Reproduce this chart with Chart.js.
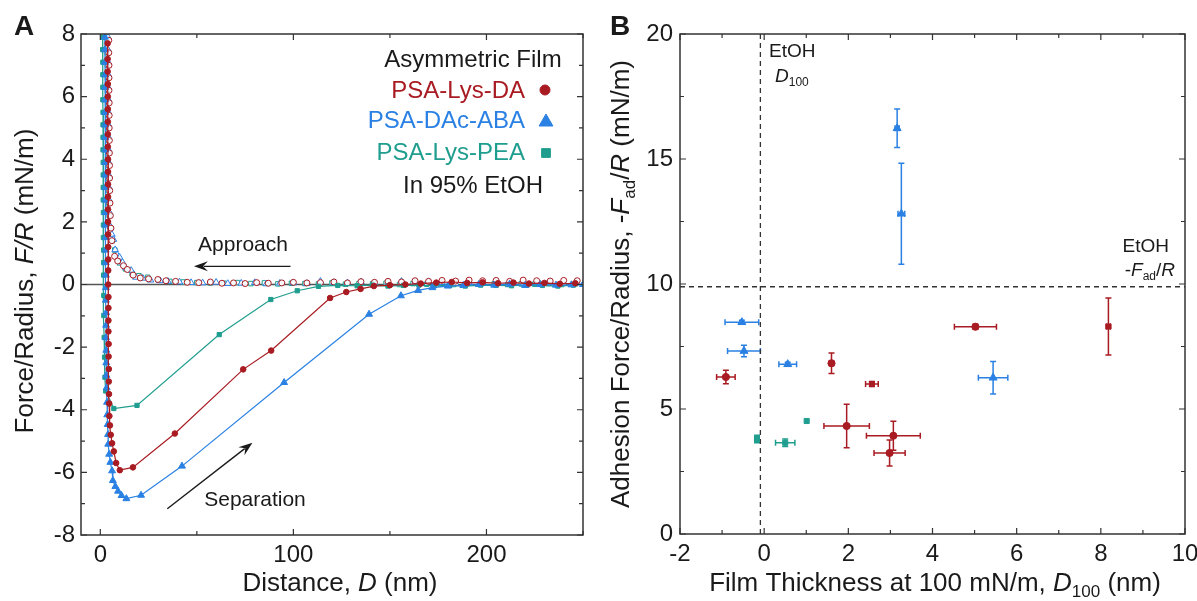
<!DOCTYPE html>
<html><head><meta charset="utf-8">
<script src="https://cdn.jsdelivr.net/npm/chart.js@4.4.1/dist/chart.umd.min.js"></script>
<style>
html,body{margin:0;padding:0;background:#fff;width:1197px;height:601px;overflow:hidden;}
#a{position:absolute;left:0;top:0;}
#b{position:absolute;left:600px;top:0;}
</style></head><body>
<canvas id="a" width="600" height="601"></canvas>
<canvas id="b" width="597" height="601"></canvas>
<script>
// ---------- Panel A data (Distance D in nm, F/R in mN/m) ----------
const aXTicks = [0, 100, 200];
const aYTicks = [-8, -6, -4, -2, 0, 2, 4, 6, 8];
const zeroLineD = [-10, 250];
const zeroLineF = [0, 0];

const redSepD = [3.8,3.8,3.8,3.9,3.9,3.9,3.9,3.9,3.9,4.0,4.0,4.0,4.0,4.0,4.0,4.0,4.1,4.1,4.1,4.1,4.2,4.2,4.2,4.2,4.3,4.3,4.4,4.4,4.5,4.6,4.7,5.0,5.4,6.1,7.0,8.2,10.1,16.9,38.6,74,88.5,119,127.4,134.8,141.7,150,158,166,174,182,190,198,206,214,222,230,238,246];
const redSepF = [7.7,7.2,6.8,6.4,6.0,5.6,5.2,4.8,4.4,4.0,3.6,3.2,2.8,2.4,2.0,1.6,1.2,0.8,0.45,0.0,-0.4,-0.75,-1.15,-1.5,-1.9,-2.3,-2.7,-3.1,-3.5,-3.8,-4.2,-4.5,-4.8,-5.07,-5.33,-5.7,-5.93,-5.84,-4.76,-2.71,-2.11,-0.43,-0.24,-0.14,-0.05,-0.02,0.0,0.03,0.06,0.08,0.05,0.07,0.04,0.06,0.03,0.05,0.02,0.04];

const blueSepD = [2.4,2.4,2.4,2.5,2.5,2.5,2.5,2.5,2.6,2.6,2.6,2.6,2.7,2.7,2.7,2.7,2.8,2.8,2.8,2.9,2.9,2.9,3.0,3.0,3.0,3.1,3.1,3.2,3.3,3.5,3.6,3.8,4.0,4.1,4.6,5.2,6.1,6.5,7.8,9.2,11,13.5,21.1,42.3,95.2,139.2,155.7,164.6,172,180,188,196,204,212,220,228,236,244,250];
const blueSepF = [7.9,7.5,7.1,6.7,6.3,5.9,5.5,5.1,4.7,4.3,3.9,3.5,3.1,2.7,2.3,1.9,1.5,1.1,0.7,0.3,-0.1,-0.5,-0.9,-1.3,-1.7,-2.1,-2.5,-2.9,-3.3,-3.76,-4.16,-4.47,-4.79,-5.1,-5.42,-5.68,-5.95,-6.26,-6.45,-6.6,-6.74,-6.84,-6.73,-5.8,-3.13,-0.95,-0.36,-0.19,-0.1,-0.05,-0.03,0.0,-0.02,0.01,-0.03,0.0,-0.02,-0.01,0.0];

const tealSepD = [1.2,1.2,1.3,1.3,1.3,1.3,1.4,1.4,1.4,1.4,1.5,1.5,1.5,1.5,1.6,1.6,1.6,1.7,1.7,1.7,1.8,1.8,2.0,2.2,2.4,2.8,7.0,19,61.6,88.3,102,113,123,133,141,149,157,165,173,181,189,197,205,213,221,229,237,245];
const tealSepF = [7.9,7.5,7.1,6.7,6.3,5.9,5.5,5.1,4.7,4.3,3.9,3.5,3.1,2.7,2.3,1.9,1.5,1.1,0.7,0.3,-0.35,-0.99,-1.69,-2.32,-2.96,-3.4,-3.96,-3.86,-1.6,-0.48,-0.2,-0.06,-0.03,-0.04,-0.02,-0.05,-0.03,-0.02,-0.04,-0.03,-0.05,-0.02,-0.03,-0.04,-0.02,-0.03,-0.05,-0.02];

const redApprD = [4.4,4.4,4.5,4.5,4.5,4.6,4.6,4.6,4.7,4.7,4.8,4.8,4.9,5.0,5.2,5.5,6.0,7.4,9.0,12,14,17,20.7,25,29.8,34,39,45,51,57,63,69,75,81,87,94,100,107,114,121,128,135,142,149,156,163,170,177,184,191,198,205,212,219,226,233,240,247];
const redApprF = [7.8,7.4,7.0,6.6,6.2,5.8,5.4,5.0,4.6,4.2,3.8,3.4,3.0,2.6,2.2,1.8,1.4,0.9,0.75,0.6,0.48,0.3,0.21,0.18,0.16,0.12,0.1,0.07,0.06,0.08,0.04,0.05,0.03,0.06,0.04,0.05,0.07,0.05,0.06,0.08,0.05,0.09,0.07,0.1,0.08,0.12,0.1,0.13,0.11,0.14,0.12,0.13,0.1,0.14,0.12,0.11,0.13,0.12];

const blueApprD = [4.0,4.0,4.1,4.1,4.1,4.2,4.2,4.2,4.3,4.3,4.4,4.4,4.5,4.6,4.8,5.3,6.0,6.8,7.7,8.7,10,11.5,13,16,18.4,22,26,31,35,41,47,53,60,66,73,80,86,93,100,107,114,121,128,135,142,149,156,163,170,177,184,191,198,205,212,219,226,233,240,247];
const blueApprF = [7.9,7.5,7.1,6.7,6.3,5.9,5.5,5.1,4.7,4.3,3.9,3.5,3.1,2.7,2.3,1.84,1.6,1.44,1.11,0.95,0.87,0.71,0.55,0.45,0.23,0.2,0.14,0.12,0.1,0.08,0.06,0.05,0.07,0.03,0.04,0.06,0.02,0.04,0.05,0.03,0.1,0.06,0.05,0.08,0.04,0.07,0.1,0.05,0.09,0.06,0.03,0.05,0.08,0.04,0.06,0.02,0.05,0.07,0.03,0.05];

const tealApprD = [3.6,3.6,3.7,3.7,3.7,3.8,3.8,3.8,3.9,3.9,4.0,4.0,4.1,4.3,4.6,5.2,6.2,7.5,10,13,16.5,20,24.5,30,36,43,50,57,64,71,78,85,92,99,106,113,120,127,134,141,148,155,162,169,176,183,190,197,204,211,218,225,232,239,246];
const tealApprF = [7.8,7.4,7.0,6.6,6.2,5.8,5.4,5.0,4.6,4.2,3.8,3.4,3.0,2.6,2.2,1.8,1.4,1.1,0.69,0.5,0.35,0.28,0.23,0.15,0.1,0.08,0.06,0.05,0.04,0.06,0.03,0.05,0.02,0.04,0.03,0.02,0.05,0.01,0.03,0.02,0.04,0.0,0.03,0.01,0.02,0.0,0.03,0.01,0.02,0.0,0.02,0.01,0.03,0.0,0.02];

// ---------- Panel B data (D100 in nm, -Fad/R in mN/m) ----------
const bXTicks = [-2, 0, 2, 4, 6, 8, 10];
const bYTicks = [0, 5, 10, 15, 20];
const redX = [-0.91, 1.60, 5.02, 1.96, 3.07, 2.98];
const redY = [6.28, 6.83, 8.29, 4.32, 3.93, 3.24];
const redXErr = [0.22, 0.05, 0.50, 0.54, 0.64, 0.37];
const redYErr = [0.27, 0.41, 0.10, 0.87, 0.58, 0.52];
const redSqX = [2.56, 8.18];
const redSqY = [6.00, 8.30];
const redSqXErr = [0.15, 0.05];
const redSqYErr = [0.10, 1.14];
const blueX = [-0.53, -0.48, 0.56, 5.44, 3.16, 3.26];
const blueY = [8.47, 7.32, 6.79, 6.25, 16.23, 12.81];
const blueXErr = [0.40, 0.39, 0.21, 0.35, 0.05, 0.08];
const blueYErr = [0.08, 0.23, 0.08, 0.65, 0.77, 2.02];
const tealX = [-0.17, 0.50, 1.01];
const tealY = [3.80, 3.65, 4.52];
const tealXErr = [0.05, 0.23, 0];
const tealYErr = [0.15, 0.15, 0];
const etohD100 = -0.09;
const etohFad = 9.89;

// ---------- styling ----------
const FONT = "'Liberation Sans', Arial, Helvetica, sans-serif";
const RED = '#A91B22', BLUE = '#2A81E3', TEAL = '#1F9E8F', INK = '#1a1a1a';
const pts = (xs, ys) => xs.map((x, i) => ({x: x, y: ys[i]}));

function richText(ctx, segs, x, y, size, opts) {
  opts = opts || {};
  ctx.save();
  ctx.translate(x, y); ctx.rotate(opts.rot || 0);
  ctx.fillStyle = opts.color || INK;
  ctx.textBaseline = 'middle'; ctx.textAlign = 'left';
  const f = s => (s.i ? 'italic ' : '') + (s.b ? 'bold ' : '') + Math.round(s.sub ? size * 0.64 : size) + 'px ' + FONT;
  let w = 0;
  segs.forEach(s => { ctx.font = f(s); w += ctx.measureText(s.t).width; });
  let cx = opts.align === 'right' ? -w : (opts.align === 'left' ? 0 : -w / 2);
  segs.forEach(s => { ctx.font = f(s); ctx.fillText(s.t, cx, s.sub ? size * 0.32 : 0); cx += ctx.measureText(s.t).width; });
  ctx.restore();
}

function frameTicks(chart, xMaj, xMin, yMaj, yMin) {
  const ctx = chart.ctx, a = chart.chartArea, x = chart.scales.x, y = chart.scales.y;
  ctx.save();
  ctx.strokeStyle = '#333'; ctx.lineWidth = 1.5;
  ctx.strokeRect(a.left, a.top, a.right - a.left, a.bottom - a.top);
  ctx.lineWidth = 1.2;
  ctx.beginPath();
  const tx = (v, L) => { const p = x.getPixelForValue(v); ctx.moveTo(p, a.bottom); ctx.lineTo(p, a.bottom - L); ctx.moveTo(p, a.top); ctx.lineTo(p, a.top + L); };
  const ty = (v, L) => { const p = y.getPixelForValue(v); ctx.moveTo(a.left, p); ctx.lineTo(a.left + L, p); ctx.moveTo(a.right, p); ctx.lineTo(a.right - L, p); };
  xMaj.forEach(v => tx(v, 6)); xMin.forEach(v => tx(v, 4));
  yMaj.forEach(v => ty(v, 6)); yMin.forEach(v => ty(v, 4));
  ctx.stroke();
  ctx.restore();
}

function arrow(ctx, x1, y1, x2, y2) {
  const ang = Math.atan2(y2 - y1, x2 - x1), h = 14, w = 5;
  ctx.save();
  ctx.strokeStyle = INK; ctx.fillStyle = INK; ctx.lineWidth = 1.4;
  ctx.beginPath(); ctx.moveTo(x1, y1);
  ctx.lineTo(x2 - Math.cos(ang) * h * 0.7, y2 - Math.sin(ang) * h * 0.7); ctx.stroke();
  ctx.translate(x2, y2); ctx.rotate(ang);
  ctx.beginPath(); ctx.moveTo(0, 0); ctx.lineTo(-h, -w); ctx.lineTo(-h * 0.65, 0); ctx.lineTo(-h, w); ctx.closePath(); ctx.fill();
  ctx.restore();
}

const tickFont = {family: FONT, size: 24};
function axisCommon(min, max, tickVals, pad) {
  return {
    type: 'linear', min: min, max: max,
    afterBuildTicks: s => { s.ticks = tickVals.map(v => ({value: v})); },
    grid: {display: false, drawTicks: false}, border: {display: false},
    ticks: {font: tickFont, color: INK, padding: pad, maxRotation: 0, autoSkip: false, callback: v => String(v)}
  };
}

// ---------- Panel A ----------
const panelA = {
  id: 'panelA',
  afterDraw(chart) {
    const ctx = chart.ctx, x = chart.scales.x, y = chart.scales.y;
    frameTicks(chart, aXTicks, [50, 150, 250], aYTicks, [-7, -5, -3, -1, 1, 3, 5, 7]);
    richText(ctx, [{t: 'A', b: true}], 24, 27, 28);
    richText(ctx, [{t: 'Force/Radius, '}, {t: 'F/R', i: true}, {t: ' (mN/m)'}], 26, 281, 26, {rot: -Math.PI / 2});
    richText(ctx, [{t: 'Distance, '}, {t: 'D', i: true}, {t: ' (nm)'}], 340, 584, 26);
    // legend
    richText(ctx, [{t: 'Asymmetric Film'}], 473, 60, 24);
    richText(ctx, [{t: 'PSA-Lys-DA'}], 525, 91, 24, {align: 'right', color: RED});
    richText(ctx, [{t: 'PSA-DAc-ABA'}], 525, 121, 24, {align: 'right', color: BLUE});
    richText(ctx, [{t: 'PSA-Lys-PEA'}], 525, 153, 24, {align: 'right', color: TEAL});
    richText(ctx, [{t: 'In 95% EtOH'}], 473, 186, 24);
    ctx.save();
    ctx.fillStyle = RED; ctx.strokeStyle = RED;
    Chart.helpers.drawPoint(ctx, {pointStyle: 'circle', radius: 5, borderWidth: 1}, 545, 90);
    ctx.fillStyle = BLUE; ctx.strokeStyle = BLUE;
    Chart.helpers.drawPoint(ctx, {pointStyle: 'triangle', radius: 8, borderWidth: 1}, 546, 122);
    ctx.fillStyle = TEAL; ctx.strokeStyle = TEAL;
    Chart.helpers.drawPoint(ctx, {pointStyle: 'rect', radius: 6.2, borderWidth: 1}, 546, 153);
    ctx.restore();
    // annotations
    richText(ctx, [{t: 'Approach'}], 243, 245, 21);
    arrow(ctx, x.getPixelForValue(98.5), y.getPixelForValue(0.58), x.getPixelForValue(48.5), y.getPixelForValue(0.58));
    richText(ctx, [{t: 'Separation'}], 255, 500, 21);
    arrow(ctx, x.getPixelForValue(34.7), y.getPixelForValue(-7.16), x.getPixelForValue(78.8), y.getPixelForValue(-5.05));
  }
};

const sepStyle = (label, d, f, col, ps, r) => ({label: label, data: pts(d, f), showLine: true, borderColor: col, backgroundColor: col,
  borderWidth: 1.2, pointStyle: ps, pointRadius: r, pointBorderWidth: 1, pointBorderColor: col, pointBackgroundColor: col, tension: 0});
const apprStyle = (label, d, f, col, ps, r) => ({label: label, data: pts(d, f), showLine: false, borderColor: col, backgroundColor: '#fff',
  pointStyle: ps, pointRadius: r, pointBorderWidth: 1, pointBorderColor: col, pointBackgroundColor: 'rgba(255,255,255,0.9)'});

new Chart(document.getElementById('a'), {
  type: 'scatter',
  data: {datasets: [
    sepStyle('PSA-Lys-DA separation', redSepD, redSepF, RED, 'circle', 2.8),
    sepStyle('PSA-DAc-ABA separation', blueSepD, blueSepF, BLUE, 'triangle', 4),
    sepStyle('PSA-Lys-PEA separation', tealSepD, tealSepF, TEAL, 'rect', 3),
    apprStyle('PSA-Lys-DA approach', redApprD, redApprF, RED, 'circle', 3),
    apprStyle('PSA-DAc-ABA approach', blueApprD, blueApprF, BLUE, 'triangle', 3.8),
    apprStyle('PSA-Lys-PEA approach', tealApprD, tealApprF, TEAL, 'rect', 3.2),
    {label: 'zero', data: pts(zeroLineD, zeroLineF), showLine: true, borderColor: '#555', borderWidth: 1.5, pointRadius: 0}
  ]},
  options: {
    responsive: false, animation: false, devicePixelRatio: 1,
    layout: {padding: {left: 0, top: 34, right: 17, bottom: 0}},
    plugins: {legend: {display: false}, tooltip: {enabled: false}},
    scales: {
      x: Object.assign(axisCommon(-10, 250, aXTicks, 6), {afterFit: s => { s.height = 66; s.paddingLeft = 0; s.paddingRight = 0; }}),
      y: Object.assign(axisCommon(-8, 8, aYTicks, 6), {afterFit: s => { s.width = 81; s.paddingTop = 0; s.paddingBottom = 0; }})
    }
  },
  plugins: [panelA]
});

// ---------- Panel B ----------
const errBars = {
  id: 'errBars',
  beforeDatasetsDraw(chart) {
    const ctx = chart.ctx, x = chart.scales.x, y = chart.scales.y, cap = 3;
    chart.data.datasets.forEach(ds => {
      if (!ds.errX) return;
      ctx.save(); ctx.strokeStyle = ds.borderColor; ctx.lineWidth = 1.5;
      ds.data.forEach((p, i) => {
        const px = x.getPixelForValue(p.x), py = y.getPixelForValue(p.y);
        const ex = ds.errX[i], ey = ds.errY[i];
        ctx.beginPath();
        if (ex > 0) {
          const l = x.getPixelForValue(p.x - ex), r = x.getPixelForValue(p.x + ex);
          ctx.moveTo(l, py); ctx.lineTo(r, py);
          ctx.moveTo(l, py - cap); ctx.lineTo(l, py + cap);
          ctx.moveTo(r, py - cap); ctx.lineTo(r, py + cap);
        }
        if (ey > 0) {
          const t = y.getPixelForValue(p.y + ey), b = y.getPixelForValue(p.y - ey);
          ctx.moveTo(px, t); ctx.lineTo(px, b);
          ctx.moveTo(px - cap, t); ctx.lineTo(px + cap, t);
          ctx.moveTo(px - cap, b); ctx.lineTo(px + cap, b);
        }
        ctx.stroke();
      });
      ctx.restore();
    });
  }
};

const panelB = {
  id: 'panelB',
  afterDraw(chart) {
    const ctx = chart.ctx;
    frameTicks(chart, bXTicks, [-1, 1, 3, 5, 7, 9], bYTicks, [2.5, 7.5, 12.5, 17.5]);
    richText(ctx, [{t: 'B', b: true}], 20, 27, 28);
    richText(ctx, [{t: 'Adhesion Force/Radius, -'}, {t: 'F', i: true}, {t: 'ad', sub: true}, {t: '/'}, {t: 'R', i: true}, {t: ' (mN/m)'}], 22, 284, 26, {rot: -Math.PI / 2});
    richText(ctx, [{t: 'Film Thickness at 100 mN/m, '}, {t: 'D', i: true}, {t: '100', sub: true}, {t: ' (nm)'}], 335, 584, 26);
    richText(ctx, [{t: 'EtOH'}], 169, 52, 19, {align: 'left'});
    richText(ctx, [{t: 'D', i: true}, {t: '100', sub: true}], 175, 77, 19, {align: 'left'});
    richText(ctx, [{t: 'EtOH'}], 569, 247, 19, {align: 'right'});
    richText(ctx, [{t: '-'}, {t: 'F', i: true}, {t: 'ad', sub: true}, {t: '/'}, {t: 'R', i: true}], 575, 271, 19, {align: 'right'});
  }
};

const ptStyle = (label, xs, ys, ex, ey, col, ps, r) => ({label: label, data: pts(xs, ys), errX: ex, errY: ey, showLine: false,
  borderColor: col, backgroundColor: col, pointStyle: ps, pointRadius: r, pointBorderWidth: 1, pointBorderColor: col, pointBackgroundColor: col});

new Chart(document.getElementById('b'), {
  type: 'scatter',
  data: {datasets: [
    ptStyle('PSA-Lys-DA', redX, redY, redXErr, redYErr, RED, 'circle', 3.6),
    ptStyle('PSA-Lys-DA (sq)', redSqX, redSqY, redSqXErr, redSqYErr, RED, 'rect', 3.6),
    ptStyle('PSA-DAc-ABA', blueX, blueY, blueXErr, blueYErr, BLUE, 'triangle', 4.6),
    ptStyle('PSA-Lys-PEA', tealX, tealY, tealXErr, tealYErr, TEAL, 'rect', 3.6),
    {label: 'EtOH D100', data: [{x: etohD100, y: 0}, {x: etohD100, y: 20}], showLine: true, borderColor: '#333', borderWidth: 1.3, borderDash: [5, 4], pointRadius: 0},
    {label: 'EtOH Fad/R', data: [{x: -2, y: etohFad}, {x: 10, y: etohFad}], showLine: true, borderColor: '#333', borderWidth: 1.3, borderDash: [5, 4], pointRadius: 0}
  ]},
  options: {
    responsive: false, animation: false, devicePixelRatio: 1,
    layout: {padding: {left: 0, top: 34, right: 12, bottom: 0}},
    plugins: {legend: {display: false}, tooltip: {enabled: false}},
    scales: {
      x: Object.assign(axisCommon(-2, 10, bXTicks, 6), {afterFit: s => { s.height = 67; s.paddingLeft = 0; s.paddingRight = 0; }}),
      y: Object.assign(axisCommon(0, 20, bYTicks, 7), {afterFit: s => { s.width = 80; s.paddingTop = 0; s.paddingBottom = 0; }})
    }
  },
  plugins: [errBars, panelB]
});
</script>
</body></html>
